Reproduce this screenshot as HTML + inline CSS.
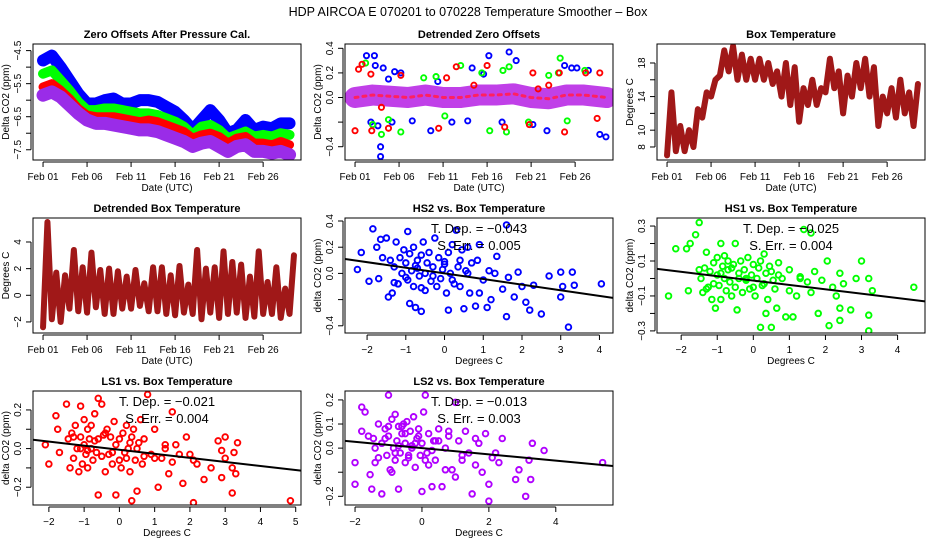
<!DOCTYPE html>
<html><head><meta charset="utf-8">
<style>
html,body{margin:0;padding:0;background:#fff;}
svg{display:block;font-family:"Liberation Sans",Arial,sans-serif;}
</style></head>
<body>
<svg id="chart" width="936" height="540" viewBox="0 0 936 540" xmlns="http://www.w3.org/2000/svg">
<rect width="936" height="540" fill="#fff"/>
<text x="468" y="16" font-size="12.5" text-anchor="middle" fill="#000">HDP   AIRCOA E   070201 to 070228   Temperature Smoother – Box</text>
</svg>
<script>
// ---------- data ----------
const days = [0,1,2,3,4,5,6,7,8,9,10,11,12,13,14,15,16,17,18,19,20,21,22,23,24,25,26,27,28];
const dateTickDays = [0,5,10,15,20,25];
const dateTickLabels = ["Feb 01","Feb 06","Feb 11","Feb 16","Feb 21","Feb 26"];
// Zero offsets (ppm), daily centres
const zoBlue   = [-4.8,-4.65,-5.0,-5.4,-5.8,-6.1,-6.1,-6.0,-5.95,-6.1,-6.1,-6.0,-6.0,-6.05,-6.2,-6.35,-6.6,-6.9,-6.6,-6.3,-6.6,-7.0,-6.9,-6.6,-6.9,-6.8,-6.85,-6.7,-6.7];
const zoGreen  = [-5.2,-5.1,-5.4,-5.7,-6.05,-6.3,-6.3,-6.25,-6.25,-6.3,-6.35,-6.4,-6.4,-6.45,-6.55,-6.65,-6.8,-7.05,-6.8,-6.75,-6.9,-7.15,-7.05,-6.95,-7.1,-7.05,-7.1,-7.0,-7.05];
const zoRed    = [-5.6,-5.5,-5.7,-5.95,-6.25,-6.45,-6.5,-6.5,-6.5,-6.55,-6.6,-6.65,-6.6,-6.65,-6.75,-6.85,-6.95,-7.15,-7.05,-7.0,-7.1,-7.3,-7.15,-7.1,-7.3,-7.3,-7.35,-7.25,-7.35];
const zoPurple = [-5.85,-5.75,-5.9,-6.15,-6.4,-6.6,-6.7,-6.7,-6.75,-6.8,-6.85,-6.9,-6.9,-6.95,-7.05,-7.15,-7.25,-7.4,-7.3,-7.25,-7.4,-7.55,-7.4,-7.35,-7.55,-7.55,-7.6,-7.55,-7.65];
// Detrended zero offsets
const dzBandDays = [0,2,4,6,8,10,12,14,16,18,20,22,24,26,28.6];
const dzBandVals = [0.0,0.02,0.01,0.0,0.02,0.0,0.0,0.02,0.02,0.03,0.0,-0.01,0.02,0.02,0.0];
const dzBlueDays = [1.3,2.2,2.3,2.6,2.9,2.9,3.2,4.2,4.5,5.2,6.5,8.6,12.8,13.3,14.6,15.2,16.7,17.5,18.3,20.2,21.8,23.8,24.6,25.2,26.5,27.8,28.5,3.8,9.4,11,1.8];
const dzBlueVals = [0.34,0.34,0.26,-0.23,-0.4,-0.48,0.24,-0.2,0.21,0.2,-0.19,-0.27,-0.19,0.24,0.19,0.34,-0.2,0.37,0.3,-0.22,-0.27,0.26,0.24,0.24,0.22,-0.3,-0.32,0.15,0.13,-0.2,-0.2];
const dzGreenDays = [1.2,2.0,3.0,3.8,5.2,7.8,9.2,10.2,12.0,14.4,15.3,16.8,17.5,17.2,19.7,22.0,23.1,23.3,24.1,26.1];
const dzGreenVals = [0.28,-0.22,-0.3,-0.18,-0.28,0.16,0.17,-0.15,0.26,0.2,-0.27,0.22,0.25,-0.28,-0.2,0.18,0.2,0.32,-0.19,0.22];
const dzRedDays = [0,0.4,0.8,1.8,1.9,3.8,3.0,5.2,9.5,10.4,11.5,13.5,15.0,17.0,19.8,20.2,20.8,22.0,23.2,23.8,26.2,27.8,27.5];
const dzRedVals = [-0.27,0.23,0.27,0.19,-0.27,-0.25,-0.08,0.18,-0.25,0.16,0.25,0.1,0.26,-0.24,-0.22,0.2,0.07,0.1,0.2,-0.28,0.2,0.2,-0.17];
// Box temperature daily min / max (deg C)
const btMin = [7,7.5,7.5,8,11.5,14,16.5,17,16,16,16,16,15.5,14,13,11,13,13,14.5,15,12,14,15,14,10.5,12,11.5,12,10.5];
const btMax = [14.5,10.5,10,12.5,14.5,16,19.5,20,19,18.5,18.5,18,17,18,17.5,15,16,15,18.5,17,16.5,18,18.5,17.5,14,15,16,14.5,15.5];
// Detrended box temperature daily min / max
const dbMin = [-2.4,-1.8,-2,-1,-1.2,-1.3,-0.9,-1.4,-1.4,-1,-1,-0.8,-1.2,-1.2,-1.4,-1.5,-1.3,-1.4,-1.8,-1.3,-1.7,-1.4,-1.3,-1.7,-1.6,-1.4,-1.4,-1.7,-1.4];
const dbMax = [5.5,1.7,1.5,3.4,2.1,3.2,1.9,2,1.8,1.4,1.9,0.9,2.1,2.1,1.5,2.2,0.8,3.4,2,2.1,3.3,2.5,2.3,1.4,3.3,1,2.1,0.5,3];
// Scatter: HS2
const hs2X = [-2.25,-2.15,-1.95,-1.85,-1.75,-1.7,-1.65,-1.5,-1.45,-1.4,-1.35,-1.3,-1.25,-1.2,-1.15,-1.1,-1.05,-1,-0.95,-0.95,-0.9,-0.9,-0.85,-0.8,-0.8,-0.75,-0.75,-0.7,-0.65,-0.6,-0.6,-0.55,-0.5,-0.5,-0.45,-0.4,-0.35,-0.3,-0.25,-0.2,-0.15,-0.1,-0.05,0,0.05,0.1,0.1,0.15,0.2,0.25,0.3,0.35,0.4,0.45,0.5,0.55,0.6,0.65,0.7,0.8,0.85,0.9,1.0,1.1,1.15,1.2,1.3,1.35,1.5,1.6,1.6,1.65,1.8,1.9,2.0,2.1,2.2,2.3,2.5,2.7,3.0,3.0,3.05,3.2,3.3,3.3,3.35,4.05,-1.3,-1.0,-0.7,-0.3,0.2,0.6,-1.6,-1.2,-0.6,0.0,0.4,0.9];
const hs2Y = [0.03,0.16,-0.06,0.34,0.2,-0.04,0.26,0.27,-0.18,0.1,-0.15,0.05,0.24,-0.08,0.12,0.0,0.18,0.08,0.32,-0.05,-0.23,0.15,0.02,0.2,-0.1,-0.26,0.06,0.1,-0.02,-0.29,0.14,0.24,0.0,-0.13,0.08,0.16,-0.06,0.05,0.27,-0.1,0.12,-0.04,0.03,0.07,-0.15,-0.28,0.16,0.0,0.22,-0.08,0.33,0.05,-0.1,0.18,-0.27,0.02,0.2,-0.15,0.08,-0.25,0.1,0.22,-0.05,-0.26,0.02,-0.2,0.0,0.13,-0.12,0.37,-0.33,-0.03,-0.18,0.01,-0.1,-0.22,-0.28,-0.09,-0.31,-0.02,0.01,-0.18,-0.1,-0.41,-0.48,0.01,-0.09,-0.08,-0.07,-0.03,0.04,-0.02,-0.05,0.0,0.12,-0.08,-0.11,0.09,0.1,-0.15];
// HS1
const hs1X = [-2.35,-2.15,-1.85,-1.8,-1.75,-1.6,-1.5,-1.45,-1.4,-1.35,-1.3,-1.25,-1.2,-1.15,-1.1,-1.05,-1,-1,-0.95,-0.9,-0.9,-0.85,-0.8,-0.8,-0.75,-0.7,-0.7,-0.65,-0.6,-0.55,-0.5,-0.5,-0.45,-0.4,-0.35,-0.3,-0.25,-0.2,-0.15,-0.1,-0.05,0,0.05,0.1,0.15,0.2,0.2,0.25,0.3,0.35,0.35,0.4,0.45,0.5,0.55,0.6,0.65,0.7,0.8,0.9,1.0,1.1,1.2,1.3,1.4,1.5,1.6,1.6,1.7,1.8,1.9,2.05,2.1,2.2,2.3,2.4,2.4,2.4,2.5,2.7,2.85,3.0,3.2,3.2,3.2,3.3,4.45,-1.5,-1.1,-0.6,-0.2,0.3,0.7,-1.3,-0.9,-0.4,0.0,0.5,1.0,1.3];
const hs1Y = [-0.1,0.17,0.17,-0.07,0.2,0.25,0.32,0.0,-0.08,0.06,0.15,-0.05,0.04,-0.12,0.09,-0.17,0.02,0.12,-0.04,0.2,-0.12,0.07,0.0,0.13,-0.07,0.05,0.1,-0.02,-0.1,0.08,0.2,-0.05,-0.18,0.03,0.1,-0.08,0.05,-0.01,0.12,-0.06,0.02,0.08,-0.1,0.0,0.06,-0.28,0.1,-0.04,0.14,-0.2,0.03,-0.12,0.07,-0.28,-0.01,-0.06,-0.17,0.09,0.0,-0.22,0.05,-0.22,-0.1,0.0,0.28,-0.02,0.26,-0.08,0.04,-0.2,-0.01,0.1,-0.27,-0.05,-0.1,0.03,-0.24,-0.17,-0.03,-0.18,0.0,0.1,-0.3,-0.21,0.0,-0.07,-0.05,0.05,-0.03,0.06,0.0,-0.03,0.02,-0.06,0.03,0.0,-0.05,0.04,-0.07,0.01];
// LS1
const ls1X = [-2.1,-2.0,-1.8,-1.75,-1.7,-1.5,-1.45,-1.4,-1.35,-1.3,-1.25,-1.2,-1.15,-1.1,-1.1,-1.05,-1,-1,-0.95,-0.9,-0.9,-0.85,-0.8,-0.8,-0.75,-0.7,-0.7,-0.65,-0.6,-0.6,-0.5,-0.5,-0.45,-0.4,-0.35,-0.3,-0.25,-0.2,-0.15,-0.1,-0.1,0,0.05,0.1,0.15,0.2,0.2,0.25,0.3,0.35,0.35,0.4,0.45,0.5,0.55,0.6,0.65,0.7,0.8,0.9,1.0,1.1,1.2,1.3,1.4,1.5,1.5,1.6,1.7,1.8,1.9,2.0,2.1,2.1,2.2,2.4,2.6,2.8,2.9,2.9,3.0,3.0,3.2,3.2,3.25,3.3,3.35,4.85,-1.1,-0.6,-0.2,0.3,0.7,-1.3,-0.9,-0.4,0.0,0.5,1.0,1.3];
const ls1Y = [0.02,-0.08,0.17,0.1,-0.02,0.23,0.05,-0.1,0.08,-0.05,0.12,0.0,-0.12,0.22,0.06,-0.08,0.15,0.02,-0.03,0.1,-0.1,0.05,0.0,0.12,-0.06,0.04,0.18,-0.02,0.26,-0.24,0.23,-0.04,0.07,-0.12,0.1,-0.03,0.06,-0.08,0.14,-0.24,0.02,0.05,-0.1,0.08,-0.02,0.12,-0.05,0.0,-0.12,0.06,-0.27,0.1,-0.06,-0.22,0.03,0.15,-0.08,0.05,0.28,-0.03,0.1,-0.2,-0.05,0.0,-0.13,0.19,-0.07,0.02,-0.03,-0.18,0.06,-0.03,-0.28,-0.06,-0.08,-0.16,-0.1,0.04,-0.01,-0.15,0.06,-0.05,-0.23,-0.1,-0.02,-0.13,0.03,-0.27,0.0,0.05,-0.02,0.03,-0.04,0.06,-0.01,0.08,-0.06,0.0,-0.05,0.02];
// LS2
const ls2X = [-2.0,-2.0,-1.8,-1.8,-1.7,-1.55,-1.5,-1.45,-1.4,-1.3,-1.2,-1.2,-1.1,-1.05,-1.0,-1.0,-0.95,-0.9,-0.85,-0.8,-0.8,-0.75,-0.7,-0.7,-0.65,-0.6,-0.55,-0.5,-0.5,-0.45,-0.4,-0.35,-0.3,-0.25,-0.2,-0.15,-0.1,-0.05,0.0,0.0,0.05,0.1,0.15,0.2,0.3,0.35,0.4,0.5,0.6,0.7,0.8,0.9,1.0,1.0,1.1,1.2,1.3,1.4,1.5,1.6,1.7,1.8,1.9,2.0,2.0,2.1,2.2,2.3,2.4,2.8,2.9,3.1,3.2,3.25,3.3,3.65,5.4,-1.6,-1.3,-1.0,-0.7,-0.4,-0.1,0.2,0.5,0.8,-1.4,-1.1,-0.8,-0.5,-0.2,0.1,0.4,0.7,1.2,1.6,-0.9,-0.6,-0.3,0.3];
const ls2Y = [-0.06,-0.15,0.17,0.07,0.15,-0.11,-0.17,0.04,-0.06,0.1,-0.19,0.02,0.08,-0.03,0.22,0.05,-0.09,0.12,0.0,-0.05,0.14,0.03,-0.17,0.09,-0.02,0.06,0.1,-0.06,0.02,0.11,-0.04,0.07,0.0,0.13,-0.08,0.04,0.08,-0.03,-0.18,0.02,0.15,0.22,-0.02,0.06,-0.16,0.03,-0.05,0.08,-0.16,0.0,0.05,-0.09,0.19,-0.12,0.03,-0.05,0.07,-0.02,-0.19,-0.07,0.02,-0.1,0.06,-0.22,-0.15,-0.04,-0.02,-0.06,0.04,-0.13,-0.09,-0.2,-0.05,-0.13,0.02,-0.01,-0.06,0.05,-0.04,0.09,0.01,-0.03,0.05,-0.07,0.03,0.07,0.0,0.04,-0.02,0.06,0.02,-0.05,0.03,-0.09,-0.03,0.04,-0.1,0.09,0.01,-0.01];
// regression fits [HS2, HS1, LS1, LS2]
const fitSlopes = [-0.043,-0.025,-0.021,-0.013];
const fitIntercepts = [0.0,-0.012,-0.006,0.0];
const fitSlopeLabels = ["−0.043","−0.025","−0.021","−0.013"];
const fitErrLabels = ["0.005","0.004","0.004","0.003"];

// ---------- drawing ----------
const NS = "http://www.w3.org/2000/svg";
const svg = document.getElementById("chart");
function mk(tag, attrs, parent){
  const e = document.createElementNS(NS, tag);
  for (const k in attrs) e.setAttribute(k, attrs[k]);
  (parent||svg).appendChild(e);
  return e;
}
function panel(col,row,xlim,ylim,name){
  const x0 = 33+312*col, x1 = 301+312*col;
  const y0 = [44,218,391][row], y1 = [160,333,505][row];
  const g = mk("g",{});
  
  
  const cid = "clip-"+name;
  const cp = mk("clipPath",{id:cid},g);
  mk("rect",{x:x0,y:y0,width:x1-x0,height:y1-y0},cp);
  const plot = mk("g",{"clip-path":"url(#"+cid+")"},g);
  
  
  return {g,plot,x0,x1,y0,y1,
    sx:v=>x0+(v-xlim[0])/(xlim[1]-xlim[0])*(x1-x0),
    sy:v=>y1-(v-ylim[0])/(ylim[1]-ylim[0])*(y1-y0)};
}
function frame(p,title,xlabel,ylabel,xt,xtl,yt,ytl){
  const box = mk("rect",{x:p.x0,y:p.y0,width:p.x1-p.x0,height:p.y1-p.y0,fill:"none",stroke:"#000","stroke-width":1},p.g);
  
  
  const t = mk("text",{x:(p.x0+p.x1)/2,y:p.y0-6,"font-size":11,"font-weight":"bold","text-anchor":"middle"},p.g);
  t.textContent = title;
  
  
  const xa = mk("g",{},p.g);
  
  
  const ay = p.y1+2;
  mk("line",{x1:p.sx(xt[0]),x2:p.sx(xt[xt.length-1]),y1:ay,y2:ay,stroke:"#000"},xa);
  xt.forEach((v,i)=>{
    mk("line",{x1:p.sx(v),x2:p.sx(v),y1:ay,y2:ay+5,stroke:"#000"},xa);
    if (xtl[i]!==""){
      const l = mk("text",{x:p.sx(v),y:p.y1+20,"font-size":10,"text-anchor":"middle"},xa);
      l.textContent = xtl[i];
      
      
    }
  });
  const xl = mk("text",{x:(p.x0+p.x1)/2,y:p.y1+31,"font-size":10,"text-anchor":"middle"},p.g);
  xl.textContent = xlabel;
  
  
  const ya = mk("g",{},p.g);
  
  
  const ax = p.x0-2;
  mk("line",{x1:ax,x2:ax,y1:p.sy(yt[0]),y2:p.sy(yt[yt.length-1]),stroke:"#000"},ya);
  yt.forEach((v,i)=>{
    mk("line",{x1:ax,x2:ax-5,y1:p.sy(v),y2:p.sy(v),stroke:"#000"},ya);
    if (ytl[i]!==""){
      const X = p.x0-12, Y = p.sy(v);
      const l = mk("text",{x:X,y:Y,"font-size":10,"text-anchor":"middle",transform:`rotate(-90 ${X} ${Y})`},ya);
      l.textContent = ytl[i];
      
      
    }
  });
  const X = p.x0-24, Y=(p.y0+p.y1)/2;
  const yl = mk("text",{x:X,y:Y,"font-size":10,"text-anchor":"middle",transform:`rotate(-90 ${X} ${Y})`},p.g);
  yl.textContent = ylabel;
  
  
}
function band(p,xs,ys,color,w,name,dash){
  const pts = xs.map((x,i)=>p.sx(x)+","+p.sy(ys[i])).join(" ");
  const a = {points:pts,fill:"none",stroke:color,"stroke-width":w,"stroke-linejoin":"round","stroke-linecap":"round"};
  if (dash) a["stroke-dasharray"] = dash;
  const l = mk("polyline",a,p.plot);
  
  
  return l;
}
function dots(p,xs,ys,color,name,r){
  const g = mk("g",{},p.plot);
  
  
  xs.forEach((x,i)=>{
    const c = mk("circle",{cx:p.sx(x),cy:p.sy(ys[i]),r:r||2.6,fill:"none",stroke:color,"stroke-width":1.9},g);
    
    
  });
}
function zigzag(mins,maxs){
  const xs=[],ys=[];
  days.forEach((d,i)=>{xs.push(d);ys.push(mins[i]);xs.push(d+0.5);ys.push(maxs[i]);});
  return [xs,ys];
}
const dateX = [-1.14,29.3];

// Panel 1
let p = panel(0,0,dateX,[-7.81,-4.3],"zero-offsets-panel");
band(p,days,zoBlue,"#0000ff",12,"series-hs2");
band(p,days,zoGreen,"#00ff00",10,"series-hs1");
band(p,days,zoRed,"#ff0000",9,"series-ls1");
band(p,days,zoPurple,"#9a2ce8",13,"series-ls2");
frame(p,"Zero Offsets After Pressure Cal.","Date (UTC)","Delta CO2 (ppm)",dateTickDays,dateTickLabels,[-7.5,-7,-6.5,-6,-5.5,-5,-4.5],["−7.5","","−6.5","","−5.5","","−4.5"]);

// Panel 2
p = panel(1,0,dateX,[-0.508,0.435],"detrended-zero-offsets-panel");
dots(p,dzBlueDays,dzBlueVals,"#0000ff","outliers-hs2");
dots(p,dzGreenDays,dzGreenVals,"#00ff00","outliers-hs1");
band(p,dzBandDays,dzBandVals,"#c040e8",21,"band-ls2");
band(p,dzBandDays,dzBandVals,"#ff2060",3,"band-ls1-core","3 5");
dots(p,dzRedDays,dzRedVals,"#ff0000","outliers-ls1");
frame(p,"Detrended Zero Offsets","Date (UTC)","Delta CO2 (ppm)",dateTickDays,dateTickLabels,[-0.4,-0.2,0,0.2,0.4],["−0.4","","0.0","0.2","0.4"]);

// Panel 3
p = panel(2,0,dateX,[6.45,20.26],"box-temperature-panel");
let zz = zigzag(btMin,btMax);
band(p,zz[0],zz[1],"#a01818",6,"box-temperature-line");
frame(p,"Box Temperature","Date (UTC)","Degrees C",dateTickDays,dateTickLabels,[8,10,12,14,16,18],["8","10","","14","","18"]);

// Panel 4
p = panel(0,1,dateX,[-2.83,5.8],"detrended-box-temperature-panel");
zz = zigzag(dbMin,dbMax);
band(p,zz[0],zz[1],"#a01818",6,"detrended-box-temperature-line");
frame(p,"Detrended Box Temperature","Date (UTC)","Degrees C",dateTickDays,dateTickLabels,[-2,0,2,4],["−2","0","2","4"]);

function scatterPanel(col,row,xlim,ylim,name,title,xs,ys,color,k,xt,xtl,yt,ytl){
  const p = panel(col,row,xlim,ylim,name);
  dots(p,xs,ys,color,"scatter-points",2.8);
  const fl = mk("line",{x1:p.sx(xlim[0]),y1:p.sy(fitIntercepts[k]+fitSlopes[k]*xlim[0]),x2:p.sx(xlim[1]),y2:p.sy(fitIntercepts[k]+fitSlopes[k]*xlim[1]),stroke:"#000","stroke-width":2},p.plot);
  
  
  const cx=(p.x0+p.x1)/2;
  const t1 = mk("text",{x:cx,y:p.y0+15,"font-size":13,"text-anchor":"middle"},p.g);
  t1.textContent = "T. Dep. =  "+fitSlopeLabels[k];
  
  
  const t2 = mk("text",{x:cx,y:p.y0+32,"font-size":13,"text-anchor":"middle"},p.g);
  t2.textContent = "S. Err. =  "+fitErrLabels[k];
  
  
  frame(p,title,"Degrees C","delta CO2 (ppm)",xt,xtl,yt,ytl);
}
scatterPanel(1,1,[-2.57,4.35],[-0.455,0.423],"hs2-vs-box-panel","HS2 vs. Box Temperature",hs2X,hs2Y,"#0000ff",0,
  [-2,-1,0,1,2,3,4],["−2","−1","0","1","2","3","4"],[-0.4,-0.2,0,0.2,0.4],["−0.4","","0.0","0.2","0.4"]);
scatterPanel(2,1,[-2.67,4.76],[-0.312,0.346],"hs1-vs-box-panel","HS1 vs. Box Temperature",hs1X,hs1Y,"#00ff00",1,
  [-2,-1,0,1,2,3,4],["−2","−1","0","1","2","3","4"],[-0.3,-0.2,-0.1,0,0.1,0.2,0.3],["−0.3","","−0.1","","0.1","","0.3"]);
scatterPanel(0,2,[-2.45,5.15],[-0.292,0.298],"ls1-vs-box-panel","LS1 vs. Box Temperature",ls1X,ls1Y,"#ff0000",2,
  [-2,-1,0,1,2,3,4,5],["−2","−1","0","1","2","3","4","5"],[-0.2,-0.1,0,0.1,0.2],["−0.2","","0.0","","0.2"]);
scatterPanel(1,2,[-2.3,5.71],[-0.236,0.237],"ls2-vs-box-panel","LS2 vs. Box Temperature",ls2X,ls2Y,"#b000ff",3,
  [-2,0,2,4],["−2","0","2","4"],[-0.2,-0.1,0,0.1,0.2],["−0.2","","0.0","0.1","0.2"]);
</script>
</body></html>
